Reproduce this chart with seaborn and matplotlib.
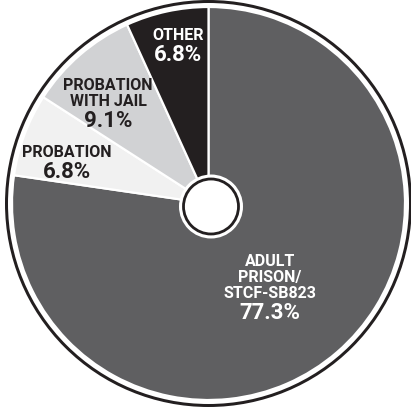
import matplotlib
matplotlib.use("Agg")
import matplotlib.pyplot as plt
import seaborn as sns
from matplotlib.patches import Circle

sns.set_theme(style="white")
plt.rcParams['font.family'] = ['Roboto', 'DejaVu Sans']

# ---- data ----
categories = ["ADULT\nPRISON/\nSTCF-SB823", "PROBATION", "PROBATION\nWITH JAIL", "OTHER"]
values = [77.3, 6.8, 9.1, 6.8]
pct_labels = ["77.3%", "6.8%", "9.1%", "6.8%"]

# ---- styles ----
colors = ["#5f5f61", "#f1f1f1", "#d1d2d4", "#231f20"]
text_colors = ["white", "#231f20", "#231f20", "white"]
# label anchor: (x centre, baseline of first line) in image pixels
label_anchor = [(270, 265.7), (67, 157), (108, 90), (178, 40)]

W = H = 411
fig = plt.figure(figsize=(W / 100, H / 100), dpi=100)
ax = fig.add_axes([0, 0, 1, 1])

cx, cy_img, r = 208.5, 203.5, 196.5
cy = H - cy_img
px = 0.72  # points per pixel

ax.pie(values, colors=colors, startangle=90, counterclock=False,
       center=(cx, cy), radius=r, frame=True,
       wedgeprops=dict(edgecolor="white", linewidth=2.2 * px))
ax.set_xlim(0, W)
ax.set_ylim(0, H)
ax.set_aspect("equal")
ax.axis("off")

# outer ring
ax.add_patch(Circle((cx, cy), 202, fill=False, edgecolor="#231f20", linewidth=3.0 * px, zorder=5))
# centre hole
ax.add_patch(Circle((211, H - 206.5), 32, facecolor="white", edgecolor="none", zorder=6))
ax.add_patch(Circle((211, H - 206.5), 27.5, facecolor="white", edgecolor="#231f20",
                    linewidth=2.8 * px, zorder=7))

line_step = 16.3
pct_gap = 21
for cat, pct, (x, y0), tc in zip(categories, pct_labels, label_anchor, text_colors):
    lines = cat.split("\n")
    for i, ln in enumerate(lines):
        ax.text(x, H - (y0 + i * line_step), ln, ha="center", va="baseline",
                fontsize=11.5, fontweight="bold", color=tc, zorder=8)
    yb = y0 + (len(lines) - 1) * line_step + pct_gap
    ax.text(x, H - yb, pct, ha="center", va="baseline",
            fontsize=16, fontweight="bold", color=tc, zorder=8)

fig.savefig("out.png", dpi=100, facecolor="white")
